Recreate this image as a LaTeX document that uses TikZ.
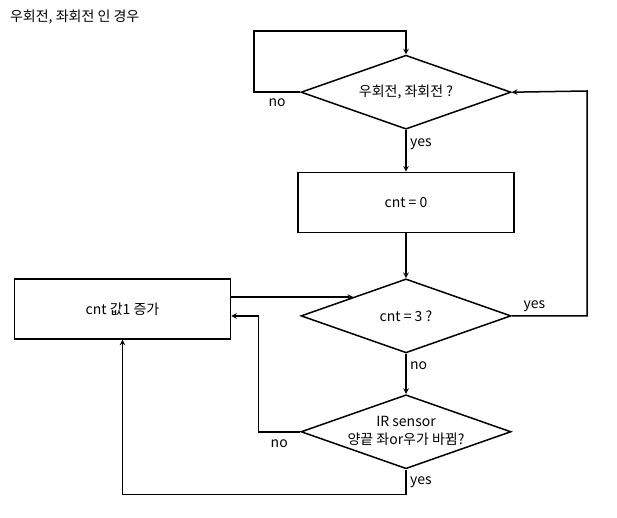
\documentclass[tikz,border=0pt]{standalone}
\usepackage{fontspec}
\setmainfont{Noto Sans CJK KR}
\usetikzlibrary{matrix,shapes.geometric}
\newcommand{\irtext}{\smash{\raisebox{-.25em}{\begin{tabular}{@{}c@{}}IR sensor\\양끝 좌or우가 바뀜?\end{tabular}}}}
\tikzset{
  decision/.style={diamond, draw, line width=1.5pt, minimum width=210pt, minimum height=74pt, aspect=2.84, inner sep=0pt},
  process/.style={rectangle, draw, line width=1.5pt, minimum width=216pt, minimum height=60pt},
}

\begin{document}
\begin{tikzpicture}[x=1pt, y=-1pt, font=\fontsize{14}{18}\selectfont, line width=1.5pt]
      \useasboundingbox (0,0) rectangle (617,518);
      \node[anchor=west] (title) at (6,17) {우회전, 좌회전 인 경우};
      \matrix (m) [matrix of nodes, row sep=42pt, column sep=66pt, nodes={anchor=center}, inner sep=0pt, anchor=north west] at (13,54)
      {
        & |[decision]| 우회전, 좌회전 ? \\
        & |[process]| cnt = 0 \\[3pt]
        |[process, yshift=7pt]| cnt 값1 증가 & |[decision]| cnt = 3 ? \\[-1pt]
        & |[decision]| \irtext \\
      };
      \coordinate (loop) at (254,31);
      \coordinate (back) at (587,91);
      \path[-stealth]
        (m-1-2) edge node [right, pos=.35] (yes1) {yes} (m-2-2)
        (m-2-2) edge (m-3-2)
        (m-3-2) edge node [right, pos=.3] (no2) {no} (m-4-2)
        (m-3-1.east |- m-3-2.north west) edge (m-3-2.north west)
        ;
      \draw[-stealth] (m-1-2.west) -- node [below, yshift=-2pt] (no1) {no} (m-1-2.west -| loop) -- (loop) -| (m-1-2.north);
      \draw[-stealth] (m-3-2.east) -- node [above, pos=.3] (yes2) {yes} (m-3-2.east -| back) -- (back) -- (m-1-2.east);
      \draw[-stealth] (m-4-2.west) -- node [below, yshift=-4pt] (no3) {no} ++(-42,0) |- (m-3-1.east |- m-3-2.west);
      \draw[-stealth] (m-4-2.south) -- node [right] (yes3) {yes} ++(0,25) -| (m-3-1.south);
    \end{tikzpicture}
\end{document}
